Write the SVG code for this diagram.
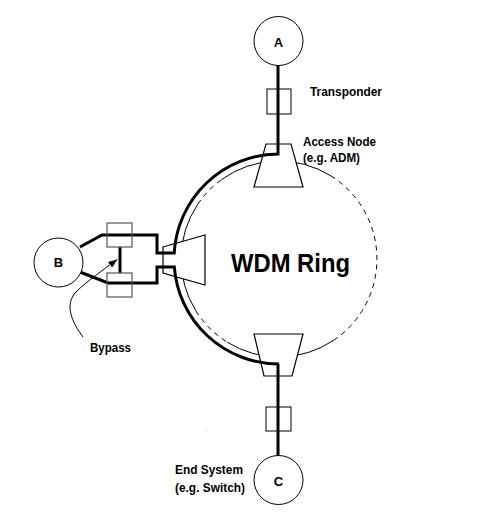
<svg xmlns="http://www.w3.org/2000/svg" width="486" height="518" viewBox="0 0 486 518">
<defs>
<style>
.ring{fill:none;stroke:#000;stroke-width:1}
.dash{stroke-dasharray:5 4.5}
.trap{fill:#fff;stroke:#000;stroke-width:1.2}
.thick{fill:none;stroke:#000;stroke-width:3;stroke-linejoin:miter}
.box{fill:none;stroke:#000;stroke-width:1}
.gbox{fill:none;stroke:#555;stroke-width:1.2}
.node{fill:#fff;stroke:#000;stroke-width:1}
.lbl{font-family:"Liberation Sans",Arial,sans-serif;font-weight:bold;font-size:13px;fill:#000}
.big{font-family:"Liberation Sans",Arial,sans-serif;font-weight:bold;font-size:26px;fill:#000}
.thin{fill:none;stroke:#000;stroke-width:1}
</style>
<marker id="arr" markerUnits="userSpaceOnUse" markerWidth="10" markerHeight="7" refX="9" refY="3.5" orient="auto">
<path d="M0,0 L9,3.5 L0,7 z" fill="#000"/>
</marker>
</defs>
<rect width="486" height="518" fill="#fff"/>

<g id="ring">
<path class="ring" d="M221.4,179.7 A98,98 0 0 1 330.9,175.9"/>
<path class="ring" d="M197.8,204.2 A98,98 0 0 0 195.9,310.9"/>
<path class="ring" d="M227.1,342.1 A98,98 0 0 0 333.8,340.2"/>
<path class="ring dash" d="M197.8,204.2 A98,98 0 0 1 221.4,179.7"/>
<path class="ring dash" d="M195.9,310.9 A98,98 0 0 0 227.1,342.1"/>
<path class="ring dash" d="M330.9,175.9 A98,98 0 0 1 333.8,340.2"/>
<text class="big" x="231" y="272" textLength="119" lengthAdjust="spacingAndGlyphs">WDM Ring</text>
</g>

<g id="access-node-top">
<polygon class="trap" points="266,144 291,144 303,187 254,187"/>
</g>
<g id="access-node-left">
<polygon class="trap" points="163,247 205,235 205,285 163,273"/>
</g>
<g id="access-node-bottom">
<polygon class="trap" points="254,334 303,334 292,376 264,376"/>
</g>

<g id="connectors">
<path class="thick" d="M278,65 L278,154 A105,105 0 0 0 174.2,253 L157,253 L157,235 L102,235 L80,247"/>
<path class="thick" d="M80,272 L108,283 L157,283 L157,267 L174.3,267 A105,105 0 0 0 279,364 L278,364 L278,456"/>
<path class="thick" d="M120,247 L120,273"/>
<path class="thin" marker-end="url(#arr)" d="M83,337 C72,322 64,305 76,292 C87,281 103,270 117.3,259.5"/>
</g>

<g id="transponder-top">
<rect class="box" x="267" y="89" width="24" height="25"/>
</g>
<g id="transponder-bottom">
<rect class="box" x="266" y="407" width="25" height="24"/>
</g>
<g id="bypass">
<rect class="gbox" x="107" y="223" width="25" height="24"/>
<rect class="gbox" x="107" y="273" width="25" height="24"/>
</g>

<g id="node-A">
<circle class="node" cx="278.5" cy="41" r="24.5"/>
<text class="lbl" x="278.5" y="46.5" text-anchor="middle">A</text>
</g>
<g id="node-B">
<circle class="node" cx="58.5" cy="262.5" r="24.5"/>
<text class="lbl" x="58.5" y="267" text-anchor="middle">B</text>
</g>
<g id="node-C">
<circle class="node" cx="278.5" cy="480" r="24.5"/>
<text class="lbl" x="278.5" y="486" text-anchor="middle">C</text>
</g>

<g id="labels">
<text class="lbl" x="310" y="96" textLength="72" lengthAdjust="spacingAndGlyphs">Transponder</text>
<text class="lbl" x="303" y="145.5" textLength="73" lengthAdjust="spacingAndGlyphs">Access Node</text>
<text class="lbl" x="303" y="162" textLength="57" lengthAdjust="spacingAndGlyphs">(e.g. ADM)</text>
<text class="lbl" x="90" y="351.5" textLength="41" lengthAdjust="spacingAndGlyphs">Bypass</text>
<text class="lbl" x="175" y="474" textLength="68" lengthAdjust="spacingAndGlyphs">End System</text>
<text class="lbl" x="175" y="491.5" textLength="70" lengthAdjust="spacingAndGlyphs">(e.g. Switch)</text>
</g>
<circle cx="206" cy="430" r="0.6" fill="#999"/>
</svg>
